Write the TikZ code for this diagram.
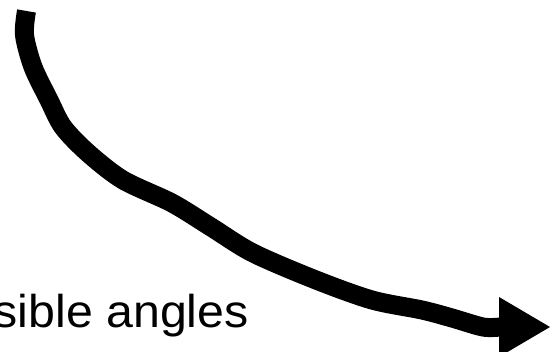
\documentclass[tikz,border=0pt]{standalone}
\usepackage{fontspec}
\setmainfont{Liberation Sans}
\begin{document}
\begin{tikzpicture}[x=1pt,y=-1pt,
  curvearrow/.style={line width=19pt, line join=round, line cap=butt},
  headfill/.style={fill=black},
  lbl/.style={anchor=base east, inner sep=0pt, font=\fontsize{46}{52}\selectfont}]
\useasboundingbox (0,0) rectangle (551,352);
\coordinate (start) at (26.5,11);
\coordinate (end) at (500,327);
\draw[curvearrow] plot[smooth, tension=0.5] coordinates {
  (start) (24.5,35) (33,67) (49,100) (63,127) (88,153) (123,180) (172,203)
  (211,227) (253,253) (316,280) (372,300) (422,310) (452,318) (483,327) (end)};
\fill[headfill] (499,297) -- (550,327) -- (499,357) -- cycle;
\node[lbl] (txt) at (249,327) {\scalebox{1.05}[1]{sible angles}};
\end{tikzpicture}
\end{document}
